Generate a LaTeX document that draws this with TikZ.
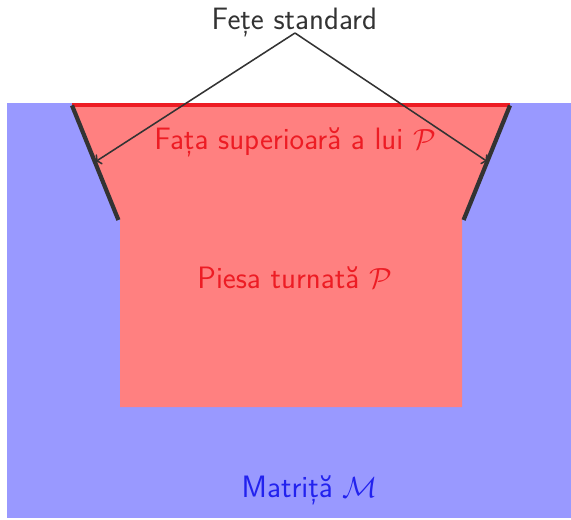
\documentclass[tikz,border=0pt]{standalone}
\usepackage{amsmath, amssymb}
\usetikzlibrary{calc,arrows.meta,positioning}
\definecolor{castred}{HTML}{ED1C24}
\definecolor{moldblue}{HTML}{2222EE}

\begin{document}
\begin{tikzpicture}[x=1cm,y=1cm]

\tikzset{
  mold/.style={fill=blue!40, draw=none},
  casting/.style={fill=red!50, draw=none},
  toplabel/.style={font=\sffamily\fontsize{22}{26}\selectfont, text=black!80, inner sep=0pt, anchor=base},
  castlabel/.style={font=\sffamily\fontsize{22}{26}\selectfont, text=castred, inner sep=0pt, anchor=base},
  moldlabel/.style={font=\sffamily\fontsize{22}{26}\selectfont, text=moldblue, inner sep=0pt, anchor=base},
  topface/.style={castred, line width=2.8pt},
  stdface/.style={black!80, line width=3pt},
  pointer/.style={black!80, line width=1.1pt, ->}
}

\useasboundingbox (0,0) rectangle (14.275,12.975);

% Mold and casting
\fill[mold] (0.175,0.025) rectangle (14.275,10.39);
\fill[casting] (1.8,10.34) -- (12.75,10.34) -- (11.55,7.475) -- (11.55,2.8)
  -- (3.0,2.8) -- (3.0,7.475) -- cycle;

% Corners
\coordinate (topl) at (1.8,10.34);
\coordinate (topr) at (12.75,10.34);
\coordinate (lowl) at (2.96,7.475);
\coordinate (lowr) at (11.59,7.475);
\coordinate (apex) at (7.375,12.15);
\coordinate (tipl) at (2.375,8.925);
\coordinate (tipr) at (12.2,8.925);

% Faces
\draw[topface] (topl) -- (topr);
\draw[stdface] (topl) -- (lowl);
\draw[stdface] (topr) -- (lowr);

% Labels
\node[toplabel] (std) at (7.36,12.24) {Fețe standard};
\node[castlabel] (upper) at (7.375,9.25) {Fața superioară a lui $\mathcal{P}$};
\node[castlabel] (piece) at (7.365,5.76) {Piesa turnată $\mathcal{P}$};
\node[moldlabel] (matrix) at (7.74,0.53) {Matriță $\mathcal{M}$};

% Lines
\draw[pointer] (apex) -- (tipl);
\draw[pointer] (apex) -- (tipr);

\end{tikzpicture}
\end{document}
